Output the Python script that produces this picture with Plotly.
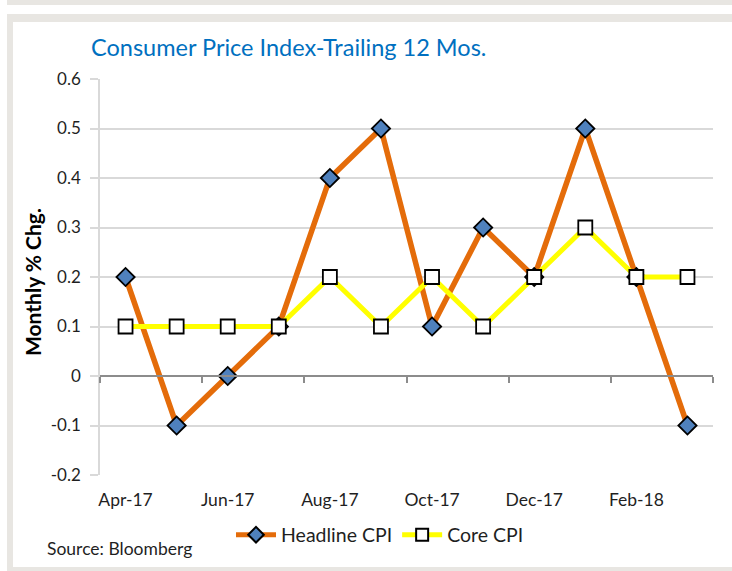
import plotly.graph_objects as go

months = ["Apr-17", "May-17", "Jun-17", "Jul-17", "Aug-17", "Sep-17",
          "Oct-17", "Nov-17", "Dec-17", "Jan-18", "Feb-18", "Mar-18"]
headline_cpi = [0.2, -0.1, 0.0, 0.1, 0.4, 0.5, 0.1, 0.3, 0.2, 0.5, 0.2, -0.1]
core_cpi = [0.1, 0.1, 0.1, 0.1, 0.2, 0.1, 0.2, 0.1, 0.2, 0.3, 0.2, 0.2]
y_tick_vals = [-0.2, -0.1, 0.0, 0.1, 0.2, 0.3, 0.4, 0.5, 0.6]
y_tick_text = ["-0.2", "-0.1", "0", "0.1", "0.2", "0.3", "0.4", "0.5", "0.6"]
x_tick_labels = months[::2]

W, H = 732, 571
ML, MR, MT, MB = 100, 19, 79, 96
PW, PH = W - ML - MR, H - MT - MB
Y_MIN, Y_MAX = -0.2, 0.6


def px_x(p):
    return (p - ML) / PW


def px_y(p):
    return 1 - (p - MT) / PH


FONT = "Lato, Calibri, Carlito, sans-serif"
GRAY_FRAME = "#e8e6e2"
TXT = "#1f1f1f"

fig = go.Figure()

fig.add_trace(go.Scatter(
    x=months, y=headline_cpi, name="Headline CPI", mode="lines+markers",
    line=dict(color="#E46C0A", width=5.5),
    marker=dict(symbol="diamond", size=14, color="#4F81BD",
                line=dict(color="#000000", width=1.8)),
))
fig.add_trace(go.Scatter(
    x=months, y=core_cpi, name="Core CPI", mode="lines+markers",
    line=dict(color="#FFFF00", width=5),
    marker=dict(symbol="square", size=14, color="#FFFFFF",
                line=dict(color="#000000", width=1.8)),
))
# helper trace so the zero-crossing category axis is drawn
fig.add_trace(go.Scatter(x=[], y=[], xaxis="x2", showlegend=False,
                         hoverinfo="skip"))

shapes = [
    dict(type="rect", xref="paper", yref="paper",
         x0=px_x(7), x1=px_x(760), y0=px_y(14), y1=px_y(600),
         fillcolor=GRAY_FRAME, line=dict(width=0), layer="below"),
    dict(type="rect", xref="paper", yref="paper",
         x0=px_x(13), x1=px_x(760), y0=px_y(22), y1=px_y(567),
         fillcolor="#FFFFFF", line=dict(width=0), layer="below"),
    dict(type="rect", xref="paper", yref="paper",
         x0=px_x(7), x1=px_x(760), y0=px_y(-20), y1=px_y(5),
         fillcolor=GRAY_FRAME, line=dict(width=0), layer="below"),
]

zero_pos = (0 - Y_MIN) / (Y_MAX - Y_MIN)

fig.update_layout(
    width=W, height=H,
    margin=dict(l=ML, r=MR, t=MT, b=MB, autoexpand=False),
    paper_bgcolor="#FFFFFF", plot_bgcolor="rgba(0,0,0,0)",
    font=dict(family=FONT, color=TXT, size=17),
    shapes=shapes,
    showlegend=True,
    legend=dict(orientation="h", x=px_x(380), y=px_y(535),
                xanchor="center", yanchor="middle",
                font=dict(size=19.5, color=TXT),
                bgcolor="rgba(0,0,0,0)", itemwidth=40,
                itemsizing="constant", entrywidth=0,
                tracegroupgap=0),
    xaxis=dict(type="category", categoryorder="array", categoryarray=months,
               range=[-0.5, len(months) - 0.5], automargin=False,
               showgrid=False, showline=False, zeroline=False,
               ticks="", tickmode="array", tickvals=x_tick_labels,
               ticktext=x_tick_labels, ticklabelstandoff=12,
               tickfont=dict(size=17.5, color=TXT)),
    xaxis2=dict(overlaying="x", anchor="free", position=zero_pos,
                side="bottom", type="linear", automargin=False,
                range=[-0.5, len(months) - 0.5],
                showgrid=False, zeroline=False, showticklabels=False,
                showline=True, linecolor="#8c8c8c", linewidth=2,
                ticks="outside", ticklen=6, tickwidth=2,
                tickcolor="#8c8c8c", tickmode="linear", tick0=-0.5, dtick=2),
    yaxis=dict(range=[Y_MIN, Y_MAX], tickmode="array", automargin=False,
               tickvals=y_tick_vals, ticktext=y_tick_text,
               showgrid=True, gridcolor="#d9d9d9", gridwidth=1.5,
               zeroline=False, showline=True, linecolor="#d9d9d9",
               linewidth=1.5, ticks="outside", ticklen=8,
               tickcolor="#d9d9d9", tickwidth=1.5,
               ticklabelstandoff=6,
               tickfont=dict(size=17, color=TXT)),
    annotations=[
        dict(text="Consumer Price Index-Trailing 12 Mos.",
             xref="paper", yref="paper", x=px_x(89), y=px_y(47),
             xanchor="left", yanchor="middle", showarrow=False,
             font=dict(family=FONT, size=23.5, color="#0070C0")),
        dict(text="<b>Monthly % Chg.</b>", textangle=-90,
             xref="paper", yref="paper", x=px_x(32), y=px_y(282),
             xanchor="center", yanchor="middle", showarrow=False,
             font=dict(family=FONT, size=21, color="#000000")),
        dict(text="Source: Bloomberg", xref="paper", yref="paper",
             x=px_x(45), y=px_y(548), xanchor="left", yanchor="middle",
             showarrow=False,
             font=dict(family=FONT, size=17.5, color=TXT)),
    ],
)

fig.write_html(
    "out.html",
    config={"displayModeBar": False},
    post_script="document.body.style.margin='0';"
                "document.body.style.overflow='hidden';",
)
